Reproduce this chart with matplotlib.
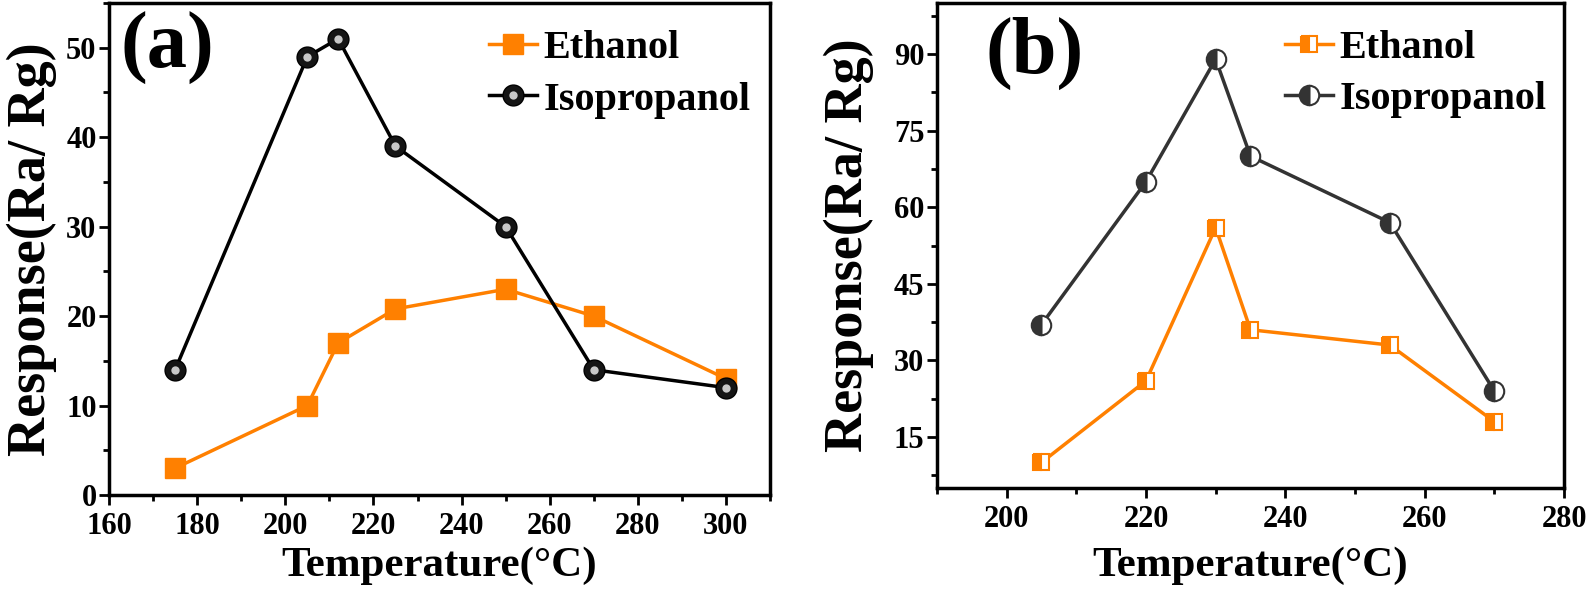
import numpy as np
import matplotlib.pyplot as plt
from matplotlib.ticker import MultipleLocator
from matplotlib.legend_handler import HandlerTuple

# panel (a)
temp_a = [175, 205, 212, 225, 250, 270, 300]
ethanol_a = [3, 10, 17, 20.8, 23, 20, 13]
isoprop_a = [14, 49, 51, 39, 30, 14, 12]

# panel (b)
temp_b = [205, 220, 230, 235, 255, 270]
ethanol_b = [10, 26, 56, 36, 33, 18]
isoprop_b = [37, 65, 89, 70, 57, 24]

plt.rcParams['font.family'] = ['Liberation Serif', 'DejaVu Serif']
plt.rcParams['font.weight'] = 'bold'
plt.rcParams['axes.labelweight'] = 'bold'

orange = '#ff8000'
grey = '#333333'

fig = plt.figure(figsize=(15.94, 6.01), dpi=100)
ax1 = fig.add_axes([0.0684, 0.1764, 0.4147, 0.8186])
ax2 = fig.add_axes([0.5878, 0.188, 0.3934, 0.807])

# (a)
l1, = ax1.plot(temp_a, ethanol_a, color=orange, lw=2.5, marker='s', ms=14)
l2, = ax1.plot(temp_a, isoprop_a, color='black', lw=2.5, marker='o', ms=15,
               mfc='#151515', mec='black')
l3, = ax1.plot(temp_a, isoprop_a, ls='none', marker='o', ms=6,
               mfc='#c8c8c8', mec='none')
ax1.legend([l1, (l2, l3)], ['Ethanol', 'Isopropanol'],
           handler_map={tuple: HandlerTuple(ndivide=1)},
           loc='upper left', bbox_to_anchor=(0.575, 0.945), frameon=False,
           fontsize=29, handlelength=1.2, handletextpad=0.15,
           labelspacing=0.35, borderaxespad=0, borderpad=0)
ax1.text(0.089, 0.907, '(a)', transform=ax1.transAxes, fontsize=58,
         ha='center', va='center')

ax1.set_xlim(160, 310)
ax1.set_ylim(0, 55)
ax1.xaxis.set_major_locator(MultipleLocator(20))
ax1.xaxis.set_minor_locator(MultipleLocator(10))
ax1.yaxis.set_major_locator(MultipleLocator(10))
ax1.yaxis.set_minor_locator(MultipleLocator(5))
ax1.set_xlabel('Temperature(°C)', fontsize=31)
ax1.set_ylabel('Response(Ra/ Rg)', fontsize=39)
ax1.xaxis.set_label_coords(0.5, -0.105)
ax1.yaxis.set_label_coords(-0.078, 0.5)

# (b)
ax2.plot(temp_b, ethanol_b, color=orange, lw=2.5, marker='s', ms=12,
         fillstyle='left', mfc=orange, mfcalt='white', mec=orange, mew=1.5,
         label='Ethanol')
ax2.plot(temp_b, isoprop_b, color=grey, lw=2.5, marker='o', ms=14,
         fillstyle='left', mfc=grey, mfcalt='white', mec=grey, mew=1.5,
         label='Isopropanol')
ax2.legend(loc='upper left', bbox_to_anchor=(0.555, 0.945), frameon=False,
           fontsize=29, handlelength=1.2, handletextpad=0.15,
           labelspacing=0.35, borderaxespad=0, borderpad=0)
ax2.text(0.156, 0.897, '(b)', transform=ax2.transAxes, fontsize=58,
         ha='center', va='center')

ax2.set_xlim(190, 280)
ax2.set_ylim(5, 100)
ax2.xaxis.set_major_locator(MultipleLocator(20))
ax2.xaxis.set_minor_locator(MultipleLocator(10))
ax2.yaxis.set_major_locator(MultipleLocator(15))
ax2.yaxis.set_minor_locator(MultipleLocator(7.5))
ax2.set_xlabel('Temperature(°C)', fontsize=31)
ax2.set_ylabel('Response(Ra/ Rg)', fontsize=39)
ax2.xaxis.set_label_coords(0.5, -0.12)
ax2.yaxis.set_label_coords(-0.10, 0.5)

for ax in (ax1, ax2):
    for sp in ax.spines.values():
        sp.set_linewidth(2.5)
    ax.tick_params(which='both', direction='out', top=False, right=False,
                   width=2, labelsize=22, pad=2)
    ax.tick_params(axis='x', which='both', pad=5)
    ax.tick_params(which='major', length=7)
    ax.tick_params(which='minor', length=4)

fig.savefig('out.png', dpi=100)
